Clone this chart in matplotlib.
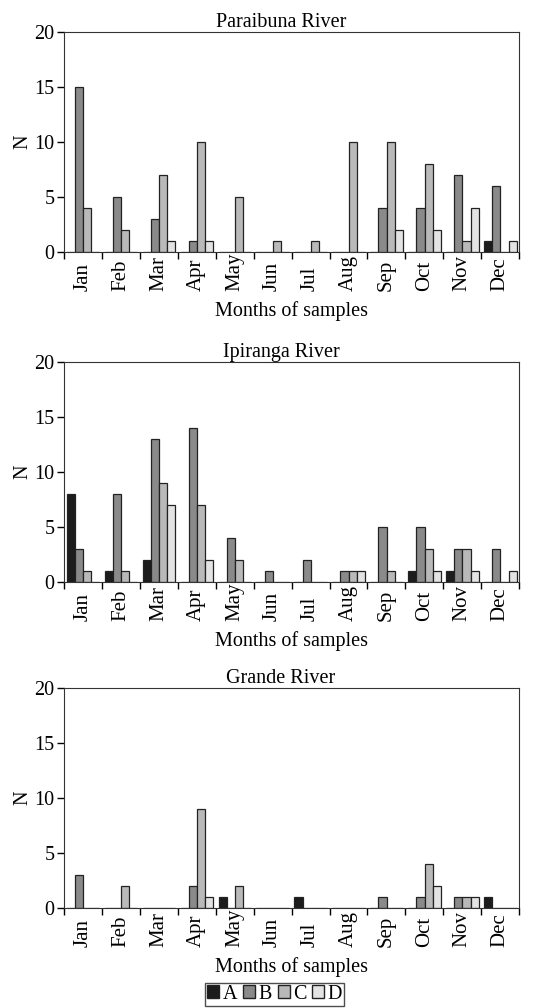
import numpy as np
import matplotlib
matplotlib.use("Agg")
from matplotlib import pyplot as plt
from matplotlib.patches import Patch

months = ["Jan", "Feb", "Mar", "Apr", "May", "Jun",
          "Jul", "Aug", "Sep", "Oct", "Nov", "Dec"]
series = ["A", "B", "C", "D"]

# Paraibuna River
parai_A = [0, 0, 0, 0, 0, 0, 0, 0, 0, 0, 0, 1]
parai_B = [15, 5, 3, 1, 0, 0, 0, 0, 4, 4, 7, 6]
parai_C = [4, 2, 7, 10, 5, 1, 1, 10, 10, 8, 1, 0]
parai_D = [0, 0, 1, 1, 0, 0, 0, 0, 2, 2, 4, 1]

# Ipiranga River
ipir_A = [8, 1, 2, 0, 0, 0, 0, 0, 0, 1, 1, 0]
ipir_B = [3, 8, 13, 14, 4, 1, 2, 1, 5, 5, 3, 3]
ipir_C = [1, 1, 9, 7, 2, 0, 0, 1, 1, 3, 3, 0]
ipir_D = [0, 0, 7, 2, 0, 0, 0, 1, 0, 1, 1, 1]

# Grande River
grande_A = [0, 0, 0, 0, 1, 0, 1, 0, 0, 0, 0, 1]
grande_B = [3, 0, 0, 2, 0, 0, 0, 0, 1, 1, 1, 0]
grande_C = [0, 2, 0, 9, 2, 0, 0, 0, 0, 4, 1, 0]
grande_D = [0, 0, 0, 1, 0, 0, 0, 0, 0, 2, 1, 0]

panels = [
    ("Paraibuna River", [parai_A, parai_B, parai_C, parai_D]),
    ("Ipiranga River", [ipir_A, ipir_B, ipir_C, ipir_D]),
    ("Grande River", [grande_A, grande_B, grande_C, grande_D]),
]
colors = ["#1c1c1c", "#8a8a8a", "#b9b9b9", "#e3e3e3"]

plt.rcParams["font.family"] = ["Liberation Serif", "DejaVu Serif"]
plt.rcParams["font.size"] = 14.5

fig = plt.figure(figsize=(5.49, 10.08), dpi=100)
bottoms = [0.750, 0.4226, 0.0992]
height = 0.218
x = np.arange(len(months))
bw = 0.215

for (title, data), b in zip(panels, bottoms):
    ax = fig.add_axes([0.1166, b, 0.829, height])
    for i, vals in enumerate(data):
        ax.bar(x - 0.5 + 0.075 + bw * (i + 0.5), vals, width=bw,
               color=colors[i], edgecolor="#222222", linewidth=0.9)
    ax.set_xlim(-0.5, 11.5)
    ax.set_ylim(0, 20)
    ax.set_yticks([0, 5, 10, 15, 20])
    ax.set_xticks(x)
    # month names start on a common line below the axis
    ax.set_xticklabels(months, rotation=90, fontsize=15, va="bottom")
    ax.set_xticks(np.arange(-0.5, 12, 1), minor=True)
    ax.tick_params(axis="x", which="major", length=0, pad=28)
    ax.tick_params(axis="x", which="minor", length=5, width=1)
    ax.tick_params(axis="y", length=5, width=1, pad=2, labelsize=14.5)
    for s in ax.spines.values():
        s.set_color("#333333")
    ax.set_title(title, fontsize=14.5, pad=2, x=0.477)
    ax.set_ylabel("N", labelpad=1)
    ax.xaxis.set_label_coords(0.477, -0.225)
    ax.set_xlabel("Months of samples")

handles = [Patch(facecolor=c, edgecolor="#222222", label=s)
           for c, s in zip(colors, series)]
fig.legend(handles=handles, loc="lower center", bbox_to_anchor=(0.5, -0.008),
           ncol=4, frameon=True, fancybox=False, edgecolor="#222222",
           handlelength=0.6, handleheight=0.6, handletextpad=0.15,
           columnspacing=0.3, borderpad=0.1, fontsize=14.5)

fig.savefig("out.png", dpi=100)
